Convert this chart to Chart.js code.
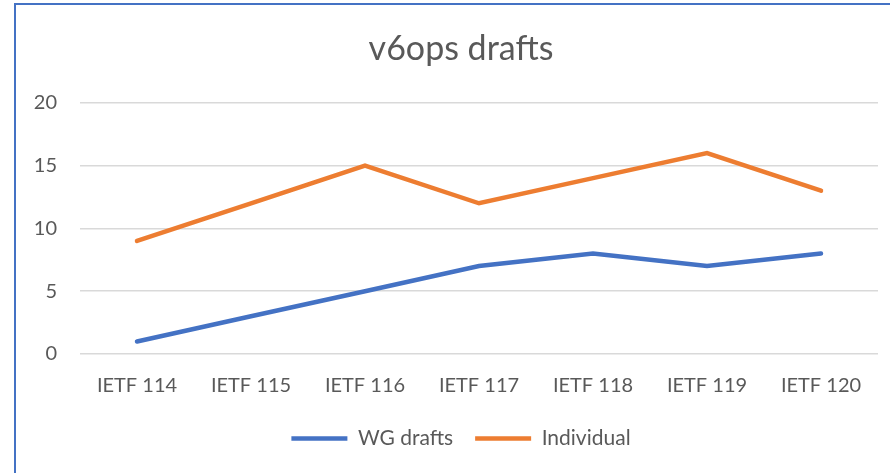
<!DOCTYPE html>
<html>
<head>
<meta charset="utf-8">
<script src="https://cdn.jsdelivr.net/npm/chart.js@4.4.0/dist/chart.umd.min.js"></script>
<style>
  html, body { margin: 0; padding: 0; background: #fff; overflow: hidden; }
  #box { position: absolute; left: 0; top: 0; width: 890px; height: 473px; }
  #frame {
    position: absolute; left: 14px; top: 3px; width: 900px; height: 500px;
    border-left: 2px solid #4472C4; border-top: 2px solid #4472C4;
    pointer-events: none;
  }
</style>
</head>
<body>
<div id="box"><canvas id="grafico"></canvas></div>
<div id="frame"></div>
<script>
const reunioes = ['IETF 114', 'IETF 115', 'IETF 116', 'IETF 117', 'IETF 118', 'IETF 119', 'IETF 120'];
const wgDrafts = [1, 3, 5, 7, 8, 7, 8];
const individual = [9, 12, 15, 12, 14, 16, 13];
const ticksY = [0, 5, 10, 15, 20];

const cinza = '#595959';
const fonte = 'Lato, "Open Sans", sans-serif';

// o gráfico original é cortado à direita, então título e legenda ficam deslocados
const deslocar = {
    id: 'deslocar',
    afterLayout(chart) {
        chart.titleBlock.left += 22;
        chart.titleBlock.right += 22;
        chart.legend.left += 22;
        chart.legend.right += 22;
    }
};

const ctx = document.getElementById('grafico').getContext('2d');
new Chart(ctx, {
    type: 'line',
    data: {
        labels: reunioes,
        datasets: [
            {
                label: 'WG drafts',
                data: wgDrafts,
                borderColor: '#4472C4',
                backgroundColor: '#4472C4',
                borderWidth: 4.5,
                borderCapStyle: 'round',
                pointRadius: 0,
                tension: 0
            },
            {
                label: 'Individual',
                data: individual,
                borderColor: '#ED7D31',
                backgroundColor: '#ED7D31',
                borderWidth: 4.5,
                borderCapStyle: 'round',
                pointRadius: 0,
                tension: 0
            }
        ]
    },
    options: {
        responsive: true,
        maintainAspectRatio: false,
        animation: false,
        layout: { padding: { left: 0, right: 12, top: 0, bottom: 14 } },
        plugins: {
            title: {
                display: true,
                text: 'v6ops drafts',
                color: cinza,
                font: { family: fonte, size: 34, weight: 'normal' },
                padding: { top: 29, bottom: 33 }
            },
            legend: {
                position: 'bottom',
                labels: {
                    color: cinza,
                    font: { family: fonte, size: 21 },
                    usePointStyle: true,
                    pointStyle: 'line',
                    pointStyleWidth: 56,
                    padding: 22
                }
            },
            tooltip: { enabled: false }
        },
        scales: {
            x: {
                offset: true,
                grid: { display: false },
                border: { display: false },
                ticks: { color: cinza, font: { family: fonte, size: 20 }, padding: 12, maxRotation: 0 },
                afterFit: function(scale) { scale.height = 52; }
            },
            y: {
                min: 0,
                max: 20,
                afterBuildTicks: function(scale) { scale.ticks = ticksY.map(v => ({ value: v })); },
                grid: { color: '#D9D9D9', lineWidth: 1.5, drawTicks: false },
                border: { display: false },
                ticks: { color: cinza, font: { family: fonte, size: 20 }, padding: 23 },
                afterFit: function(scale) { scale.width = 80; }
            }
        }
    },
    plugins: [deslocar]
});
</script>
</body>
</html>
